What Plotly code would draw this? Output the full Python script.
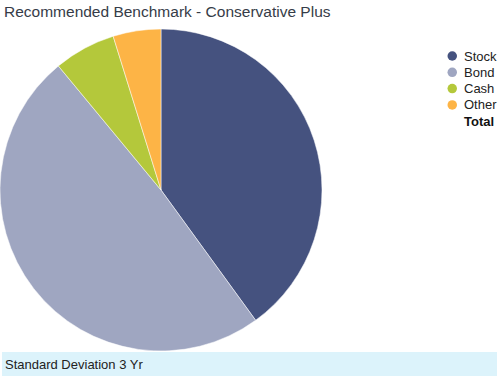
import plotly.graph_objects as go

labels = ["Stock", "Bond", "Cash", "Other"]
values = [40, 49, 6.2, 4.8]
colors = ["#45527f", "#9fa6c1", "#b4c83b", "#fdb446"]
total_label = "Total"

W, H = 500, 380

fig = go.Figure(go.Pie(
    labels=labels, values=values, sort=False, direction="clockwise",
    rotation=0, textinfo="none", hoverinfo="label+percent",
    marker=dict(colors=colors, line=dict(color="white", width=0.5)),
    domain=dict(x=[0, 322 / W], y=[1 - 351 / H, 1 - 29 / H]),
    showlegend=False,
))

annotations = [
    dict(text="Recommended Benchmark - Conservative Plus", x=2 / W, y=1 - 12 / H,
         xref="paper", yref="paper", xanchor="left", yanchor="middle",
         showarrow=False, font=dict(size=15.5, color="#363c48")),
    dict(text="Standard Deviation 3 Yr", x=3 / W, y=1 - 364 / H,
         xref="paper", yref="paper", xanchor="left", yanchor="middle",
         showarrow=False, font=dict(size=13, color="#222")),
]
shapes = [
    dict(type="rect", xref="paper", yref="paper", x0=2 / W, x1=497 / W,
         y0=1 - 376 / H, y1=1 - 352 / H, fillcolor="#dcf3fb", line=dict(width=0),
         layer="below"),
]

# custom legend (circle markers like the reference)
y0_px, step_px = 56, 16.3
for i, (lab, col) in enumerate(zip(labels, colors)):
    yc = y0_px + i * step_px
    shapes.append(dict(type="circle", xref="paper", yref="paper",
                       x0=447.5 / W, x1=457 / W, y0=1 - (yc + 4.75) / H, y1=1 - (yc - 4.75) / H,
                       fillcolor=col, line=dict(width=0)))
    annotations.append(dict(text=lab, x=461.5 / W, y=1 - yc / H, xref="paper", yref="paper",
                            xanchor="left", yanchor="middle", showarrow=False,
                            font=dict(size=13, color="#222")))
annotations.append(dict(text="<b>%s</b>" % total_label, x=461.5 / W,
                        y=1 - (y0_px + len(labels) * step_px) / H, xref="paper", yref="paper",
                        xanchor="left", yanchor="middle", showarrow=False,
                        font=dict(size=13, color="#111")))

fig.update_layout(
    width=W, height=H, margin=dict(l=0, r=0, t=0, b=0, autoexpand=False),
    paper_bgcolor="white", plot_bgcolor="white",
    font=dict(family="Liberation Sans, Arial, sans-serif", size=12, color="#222"),
    showlegend=False,
    annotations=annotations,
    shapes=shapes,
)

fig.write_html("out.html", config={"displayModeBar": False},
               post_script="document.body.style.margin='0';document.body.style.overflow='hidden';")
